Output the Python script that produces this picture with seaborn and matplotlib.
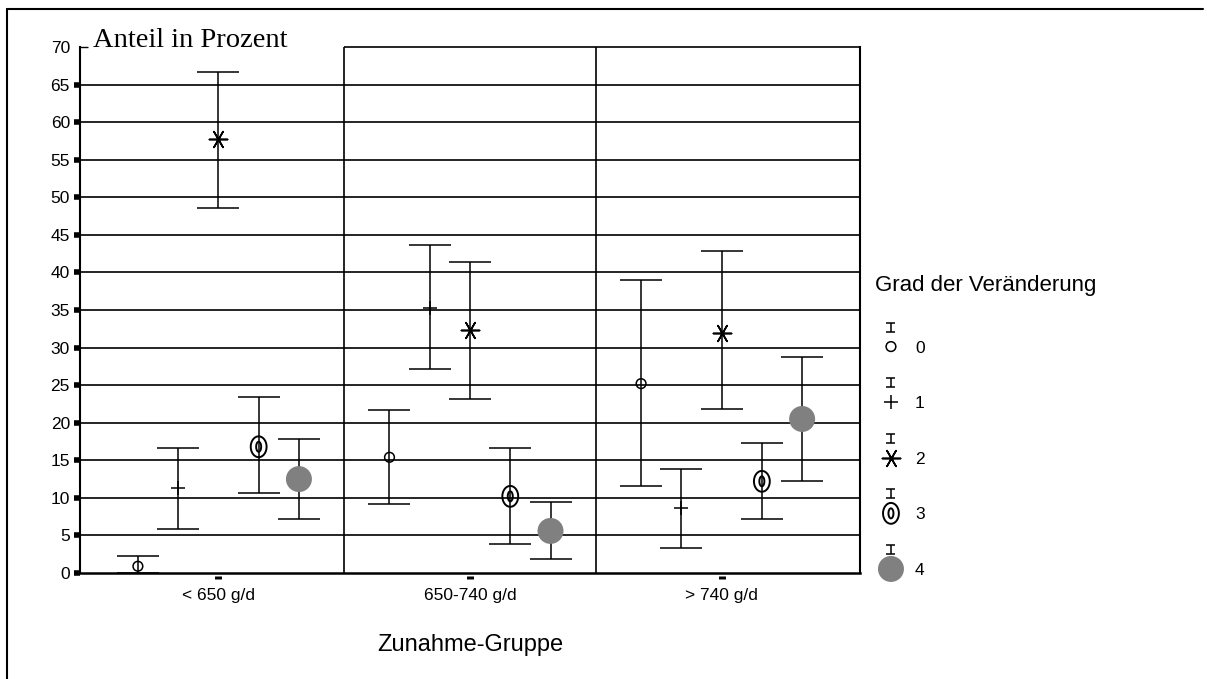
import numpy as np
import pandas as pd
import matplotlib
matplotlib.use('Agg')
import matplotlib.pyplot as plt
import matplotlib.lines as mlines
from matplotlib.path import Path
import seaborn as sns

# Daten: Zeilen = Grad der Veränderung, Spalten = Zunahme-Gruppe
gruppen = ['< 650 g/d', '650-740 g/d', '> 740 g/d']
grade = ['0', '1', '2', '3', '4']

mittelwert = [
    [0.9, 15.4, 25.2],
    [11.3, 35.3, 8.7],
    [57.8, 32.3, 32.0],
    [16.8, 10.2, 12.2],
    [12.5, 5.6, 20.5],
]
untere_grenze = [
    [0.0, 9.2, 11.6],
    [5.9, 27.1, 3.3],
    [48.6, 23.2, 21.8],
    [10.6, 3.8, 7.2],
    [7.2, 1.8, 12.3],
]
obere_grenze = [
    [2.2, 21.7, 39.0],
    [16.6, 43.6, 13.8],
    [66.7, 41.4, 42.8],
    [23.4, 16.7, 17.3],
    [17.8, 9.4, 28.7],
]

y_ticks = list(range(0, 75, 5))


def doppel_ellipse():
    """Marker fuer Grad 3: Ellipse mit kleiner Ellipse innen."""
    t = np.linspace(0, 2 * np.pi, 64)
    aussen = Path(np.column_stack([0.76 * np.sin(t), np.cos(t)]), closed=True)
    innen = Path(np.column_stack([0.24 * np.sin(t), 0.48 * np.cos(t)]), closed=True)
    return Path.make_compound_path(aussen, innen)


# Marker-Stil je Grad
stile = {
    '0': dict(marker='o', s=49, facecolor='none', edgecolor='black', linewidth=1.1),
    '1': dict(marker='+', s=110, color='black', linewidth=1.1),
    '2': dict(marker=(6, 2, 30), s=170, color='black', linewidth=1.2),
    '3': dict(marker=doppel_ellipse(), s=225, facecolor='none', edgecolor='black', linewidth=1.4),
    '4': dict(marker='o', s=350, facecolor='#808080', edgecolor='none', linewidth=0),
}

zeilen = []
for gi, g in enumerate(grade):
    for ki, k in enumerate(gruppen):
        zeilen.append({
            'grad': g,
            'gruppe': k,
            'x': ki + (gi - 2) * 0.16,
            'mittel': mittelwert[gi][ki],
            'unten': untere_grenze[gi][ki],
            'oben': obere_grenze[gi][ki],
        })
df = pd.DataFrame(zeilen)

sns.set_style('white')
plt.rcParams['font.family'] = ['Liberation Sans', 'DejaVu Sans']
plt.rcParams['text.color'] = 'black'
plt.rcParams['axes.labelcolor'] = 'black'
plt.rcParams['xtick.color'] = 'black'
plt.rcParams['ytick.color'] = 'black'

fig = plt.figure(figsize=(12.07, 6.79), dpi=100)
ax = fig.add_axes([0.0663, 0.1561, 0.6462, 0.7747])

x_min, x_max = -0.55, 2.55
ax.set_xlim(x_min, x_max)
ax.set_ylim(0, 70)

# Gitterlinien und Gruppentrenner
for h in y_ticks[1:-1]:
    ax.axhline(h, color='black', lw=1.2, zorder=1)
ax.hlines(y_ticks[-1], 0.5, x_max, color='black', lw=1.2, zorder=1, clip_on=False)
for sep in np.arange(len(gruppen) - 1) + 0.5:
    ax.axvline(sep, color='black', lw=1.2, zorder=1)

# Fehlerbalken
ax.errorbar(df['x'], df['mittel'],
            yerr=[df['mittel'] - df['unten'], df['oben'] - df['mittel']],
            fmt='none', ecolor='black', elinewidth=1.1, capsize=15, capthick=1.1, zorder=2)

# Mittelwerte
for g in grade:
    sub = df[df['grad'] == g]
    sns.scatterplot(data=sub, x='x', y='mittel', ax=ax, legend=False, zorder=3, **stile[g])

ax.set_xlabel('Zunahme-Gruppe', fontsize=17, labelpad=22, color='black')
ax.set_ylabel('')

for side in ['left', 'right']:
    ax.spines[side].set_linewidth(1.5)
    ax.spines[side].set_color('black')
ax.spines['bottom'].set_linewidth(1.8)
ax.spines['bottom'].set_color('black')
ax.spines['top'].set_visible(False)

ax.set_yticks(y_ticks)
ax.tick_params(axis='y', direction='out', length=4.3, width=4, pad=3,
               labelsize=12.5, left=True, colors='black')
yt = ax.yaxis.get_major_ticks()
yt[-1].tick1line.set_marker(mlines.TICKRIGHT)
yt[-1].tick1line.set_markeredgewidth(1.0)
yt[-1].tick1line.set_markersize(5.5)

ax.set_xticks(range(len(gruppen)), gruppen)
ax.tick_params(axis='x', length=0, pad=11, labelsize=12.5, bottom=True, colors='black')
strich = Path([(0, -0.5), (0, -1.0)])
for t in ax.xaxis.get_major_ticks():
    t.tick1line.set_visible(True)
    t.tick1line.set_marker(strich)
    t.tick1line.set_markersize(8.6)
    t.tick1line.set_markeredgewidth(5)

ax.text(0.0167, 1.0, 'Anteil in Prozent', transform=ax.transAxes,
        family=['Liberation Serif', 'DejaVu Serif'], fontsize=20.5,
        ha='left', va='baseline', clip_on=False)

# Legende
lax = fig.add_axes([0.7233, 0.1163, 0.1881, 0.5007])
lax.set_xlim(0, 1)
lax.set_ylim(-4.559, 1.556)
lax.axis('off')
lax.text(0.009, 1.0, 'Grad der Veränderung', fontsize=16, ha='left', va='baseline')
mx, lx = 0.079, 0.185
for i, g in enumerate(grade):
    y = -i
    iy = y + 0.35
    lax.vlines(mx, iy - 0.081, iy + 0.081, color='black', lw=1.1)
    lax.hlines([iy - 0.081, iy + 0.081], mx - 0.02, mx + 0.02, color='black', lw=1.1)
    sns.scatterplot(x=[mx], y=[y], ax=lax, legend=False, **stile[g])
    lax.text(lx, y, g, fontsize=12.5, ha='left', va='center_baseline')

# Rahmen oben und links
fig.add_artist(mlines.Line2D([7 / 1207, 1203 / 1207], [1 - 9 / 679, 1 - 9 / 679],
                             transform=fig.transFigure, color='black', lw=1.5))
fig.add_artist(mlines.Line2D([7 / 1207, 7 / 1207], [0, 1 - 9 / 679],
                             transform=fig.transFigure, color='black', lw=1.5))

fig.savefig('out.png', dpi=100)
plt.close(fig)
